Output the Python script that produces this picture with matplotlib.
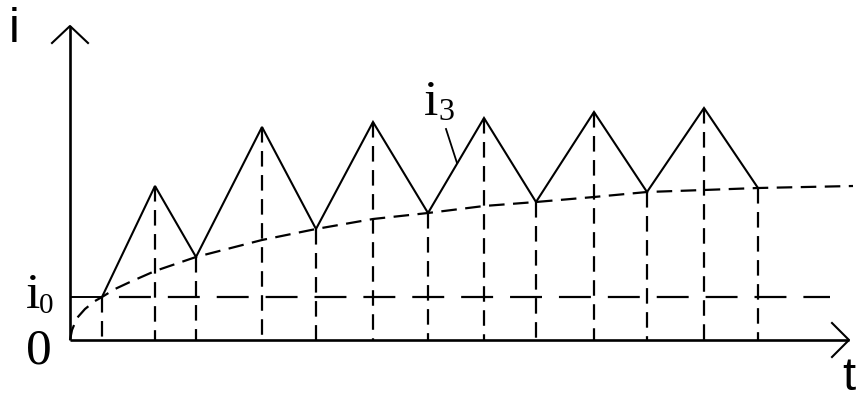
import matplotlib
matplotlib.use("Agg")
import matplotlib.pyplot as plt

plt.rcParams["lines.scale_dashes"] = False

# sawtooth current (vertices: start, then peak/valley alternating)
t_saw = [3.2, 8.5, 12.6, 19.2, 24.6, 30.3, 35.8, 41.4, 46.6, 52.4, 57.7, 63.4, 68.8]
i_saw = [4.3, 15.4, 8.3, 21.3, 11.1, 21.8, 12.7, 22.2, 13.8, 22.8, 14.8, 23.2, 15.2]

# rising envelope i3 through the valleys
t_env = [0.0, 0.2, 0.7, 1.5, 2.5, 3.2, 4.5, 6.0, 8.5, 12.6, 19.2, 24.6, 30.3,
         35.8, 41.4, 46.6, 52.4, 57.7, 63.4, 68.8, 78.3]
i_env = [0.0, 1.0, 2.2, 3.1, 3.9, 4.3, 5.1, 5.8, 6.9, 8.3, 10.0, 11.1, 12.1,
         12.7, 13.4, 13.8, 14.3, 14.8, 15.0, 15.2, 15.4]

i0 = 4.3
i0_end = 76.0
t_axis_end = 77.9
i_axis_end = 31.4

# leader line for the i3 label
lead_t = [37.6, 38.7]
lead_i = [21.1, 17.7]

SHORT_DASH = (0, (11.2, 6.1))
LONG_DASH = (23.0, (23.0, 12.2))

fig = plt.figure(figsize=(8.62, 4.01), dpi=100)
ax = fig.add_axes([0, 0, 1, 1])
ax.set_xlim(-7.0, 79.2)
ax.set_ylim(-6.1, 34.0)
ax.axis("off")

k = dict(color="black", solid_capstyle="butt", dash_capstyle="butt")

# axes with open arrowheads
ax.plot([0, t_axis_end], [0, 0], lw=1.9, **k)
ax.plot([0, 0], [0, i_axis_end], lw=1.9, **k)
ax.plot([-1.8, 0, 1.8], [i_axis_end - 1.7, i_axis_end, i_axis_end - 1.7], lw=1.5, color="black")
ax.plot([t_axis_end - 1.7, t_axis_end, t_axis_end - 1.7], [1.7, 0, -1.7], lw=1.5, color="black")

# i0 level: solid up to the first vertex, long dashes after
ax.plot([0, t_saw[0]], [i0, i0], lw=1.4, **k)
ax.plot([t_saw[0], i0_end], [i0, i0], lw=1.6, linestyle=LONG_DASH, **k)

# drop lines from every vertex
for t, i in zip(t_saw, i_saw):
    ax.plot([t, t], [i, 0], lw=1.6, linestyle=SHORT_DASH, **k)

ax.plot(t_env, i_env, lw=1.6, linestyle=SHORT_DASH, **k)
ax.plot(t_saw, i_saw, lw=1.5, color="black", solid_joinstyle="miter")
ax.plot(lead_t, lead_i, lw=1.3, color="black")

sans = "Liberation Sans"
serif = "Liberation Serif"
ax.text(-6.1, 29.8, "i", fontsize=35, family=sans, va="baseline")
ax.text(77.2, -5.0, "t", fontsize=34, family=sans, va="baseline")
ax.text(-4.4, 3.2, "i", fontsize=37, family=serif, va="baseline")
ax.text(-3.1, 2.7, "0", fontsize=21, family=serif, va="baseline")
ax.text(-4.4, -2.4, "0", fontsize=37, family=serif, va="baseline")
ax.text(35.4, 22.5, "i", fontsize=37, family=serif, va="baseline")
ax.text(36.8, 22.05, "3", fontsize=23, family=serif, va="baseline")

fig.savefig("out.png", dpi=100, facecolor="white")
